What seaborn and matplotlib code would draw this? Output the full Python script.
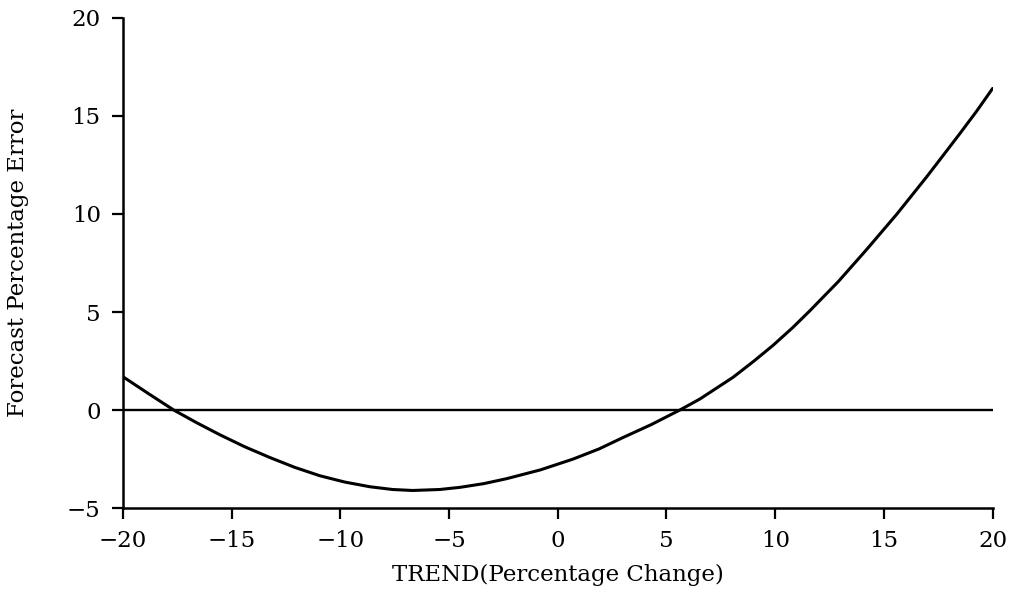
import matplotlib
matplotlib.use("Agg")
import matplotlib.pyplot as plt
import seaborn as sns
import pandas as pd

# values
trend = [-20, -18.8, -17.66, -16.6, -15.54, -14.4, -13.24, -12.1, -10.94, -9.8,
         -8.64, -7.6, -6.67, -5.43, -4.5, -3.4, -2.36, -0.8, 0.7, 1.9, 3.0,
         4.3, 5.61, 6.53, 8.06, 9.0, 9.9, 10.8, 11.59, 12.9, 14.2, 15.6, 16.95,
         17.7, 18.48, 19.25, 20]
error = [1.7, 0.82, 0.0, -0.65, -1.26, -1.87, -2.42, -2.92, -3.35, -3.67,
         -3.91, -4.05, -4.1, -4.05, -3.94, -3.75, -3.5, -3.05, -2.5, -1.98, -1.4,
         -0.74, 0.0, 0.56, 1.67, 2.48, 3.3, 4.2, 5.06, 6.55, 8.18, 10.0, 11.87,
         12.95, 14.08, 15.22, 16.4]
x_ticks = [-20, -15, -10, -5, 0, 5, 10, 15, 20]
y_ticks = [-5, 0, 5, 10, 15, 20]

sns.set_theme(style="ticks")
plt.rcParams['font.family'] = ['DejaVu Serif', 'Liberation Serif']
plt.rcParams['axes.unicode_minus'] = True

df = pd.DataFrame({"trend": trend, "error": error})

fig = plt.figure(figsize=(10.16, 5.95), dpi=100)
ax = fig.add_axes([0.121, 0.146, 0.856, 0.824])

ax.axhline(0, color="black", lw=1.7)
sns.lineplot(data=df, x="trend", y="error", color="black", lw=2.2, ax=ax,
             sort=False, solid_joinstyle="round", solid_capstyle="round")

ax.set_xlim(-20, 20)
ax.set_ylim(-5, 20)
ax.set_xticks(x_ticks)
ax.set_yticks(y_ticks)
ax.set_xticklabels([str(t).replace("-", "\u2212") for t in x_ticks])
ax.set_yticklabels([str(t).replace("-", "\u2212") for t in y_ticks])
ax.tick_params(axis="both", direction="out", length=8, width=1.6, colors="black",
               labelsize=16.5, pad=8)
sns.despine(ax=ax)
for s in ["left", "bottom"]:
    ax.spines[s].set_linewidth(1.8)
    ax.spines[s].set_color("black")

ax.set_xlabel("TREND(Percentage Change)", fontsize=16.5, labelpad=8, color="black")
ax.set_ylabel("Forecast Percentage Error", fontsize=16.5, labelpad=27, color="black")

fig.savefig("out.png", dpi=100)
